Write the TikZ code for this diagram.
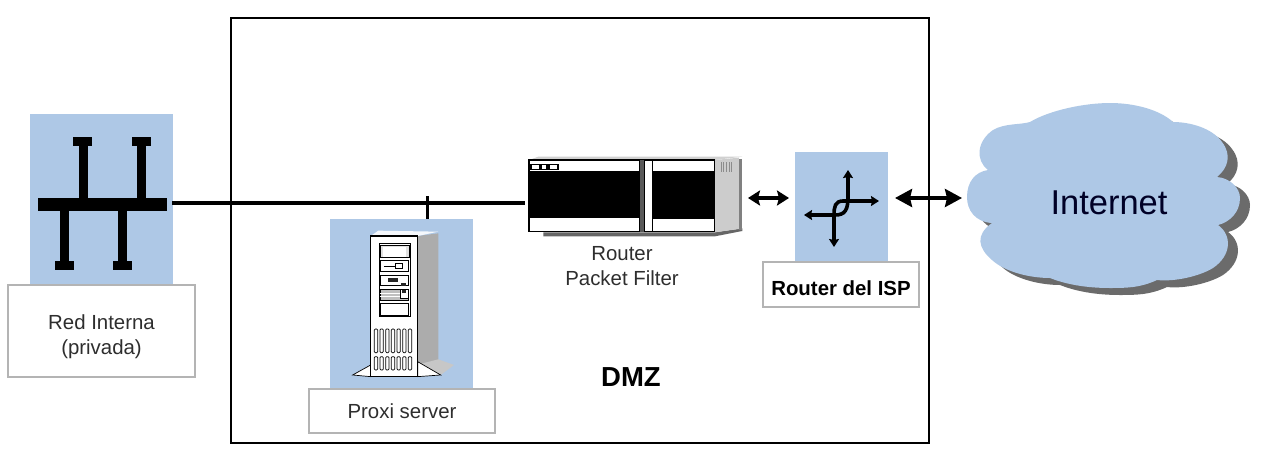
\documentclass[tikz,border=0pt]{standalone}
\usepackage{fontspec}
\setmainfont{Liberation Sans}
\usetikzlibrary{arrows.meta}
\definecolor{netblue}{HTML}{AEC8E6}
\definecolor{lblgray}{HTML}{B4B4B4}
\definecolor{txt}{HTML}{2E2E2E}
\tikzset{
  panel/.style={fill=netblue,draw=none,inner sep=0pt,outer sep=0pt},
  lbl/.style={fill=white,draw=lblgray,inner sep=0pt,outer sep=0pt,align=center,text=txt,font=\fontsize{20.4}{25}\selectfont},
  solid bar/.style={fill=black,draw=none,inner sep=0pt,outer sep=0pt},
  twohead/.style={line width=3.4pt,{Stealth[length=12pt,width=15pt,inset=2pt]}-{Stealth[length=12pt,width=15pt,inset=2pt]}},
  bighead/.style={line width=3.4pt,{Stealth[length=17pt,width=18pt,inset=2pt]}-{Stealth[length=17pt,width=18pt,inset=2pt]}},
  smallhead/.style={line width=3.6pt,{Stealth[length=8pt,width=10pt,inset=1pt]}-{Stealth[length=8pt,width=10pt,inset=1pt]}},
}
\def\cloudpath{(988,170) .. controls (975,160) and (977,141) .. (993,130)
 .. controls (1005,123) and (1020,125) .. (1030,122)
 .. controls (1050,110) and (1085,103) .. (1110,103)
 .. controls (1135,103) and (1160,110) .. (1173,122)
 .. controls (1190,122) and (1212,128) .. (1222,142)
 .. controls (1232,155) and (1228,168) .. (1217,177)
 .. controls (1230,178) and (1240,188) .. (1240,198)
 .. controls (1240,212) and (1230,222) .. (1218,225)
 .. controls (1232,235) and (1232,255) .. (1213,268)
 .. controls (1200,276) and (1175,282) .. (1157,280)
 .. controls (1140,288) and (1125,288) .. (1110,288)
 .. controls (1085,288) and (1065,284) .. (1050,278)
 .. controls (1030,278) and (1005,272) .. (992,260)
 .. controls (978,248) and (975,235) .. (992,223)
 .. controls (975,222) and (967,210) .. (967,197)
 .. controls (967,182) and (975,172) .. (988,170) -- cycle}
\begin{document}
\begin{tikzpicture}[x=1pt,y=-1pt]
\useasboundingbox[fill=white] (0,0) rectangle (1263,464);
% DMZ frame
\node[draw=black,line width=2.5pt,minimum width=698pt,minimum height=425pt,inner sep=0pt] (dmz) at (580,230.5) {};
\node[font=\bfseries\fontsize{27.5}{32}\selectfont,text=black] (dmzt) at (631,377) {DMZ};

% Internal network
\node[panel,minimum width=143pt,minimum height=171pt] (netp) at (101.5,199.5) {};
\node[lbl,line width=2.6pt,minimum width=187pt,minimum height=92pt] (netl) at (101.5,331) {\rule{0pt}{26pt}Red Interna\\(privada)};
\node[solid bar,minimum width=129pt,minimum height=13pt] (bus) at (102.5,204.5) {};
\foreach \n/\xx/\yy/\h in {a/83/170/56,b/141/170/56,c/64/238/54,d/122/238/54}{
  \node[solid bar,minimum width=9pt,minimum height=\h pt] (stem\n) at (\xx,\yy) {};
}
\foreach \n/\xx/\yy in {a/82.5/141.5,b/141.5/141.5,c/64.5/265.5,d/122.5/265.5}{
  \node[solid bar,minimum width=19pt,minimum height=9pt] (cap\n) at (\xx,\yy) {};
}

% Proxy server
\node[panel,minimum width=143pt,minimum height=171pt] (prxp) at (401.5,304.5) {};
\node[lbl,line width=1.2pt,minimum width=186pt,minimum height=44pt] (prxl) at (402,411) {Proxi server};
\begin{scope}[shift={(320,190)},x=0.3333pt,y=-0.3333pt]
  \fill[gray!65] (293,138) -- (355,130) -- (355,510) -- (293,535) -- cycle;
  \fill[white!88!netblue] (152,138) -- (175,122) -- (355,125) -- (293,138) -- cycle;
  \fill[black!22] (300,522) -- (355,508) -- (402,525) -- (362,555) -- cycle;
  \draw[black,line width=.7pt,fill=white] (152,525) -- (98,555) -- (152,560) -- cycle;
  \draw[black,line width=.7pt,fill=white] (293,515) -- (362,555) -- (293,560) -- cycle;
  \draw[black,line width=1.3pt,fill=white] (152,138) rectangle (293,560);
  \draw[black,line width=.8pt,fill=white] (177,160) rectangle (270,380);
  \draw[black,line width=.7pt,fill=black!12] (180,165) rectangle (268,202);
  \fill[white] (188,172) rectangle (258,200);
  \draw[black,line width=.7pt] (180,212) rectangle (265,245);
  \draw[black,line width=.7pt] (192,229) -- (225,229);
  \draw[black,line width=.7pt,fill=white] (225,220) rectangle (248,235);
  \draw[black,line width=.7pt] (180,255) rectangle (265,287);
  \fill[black!85] (205,265) rectangle (235,275);
  \fill[black!85] (243,278) rectangle (258,287);
  \draw[black,line width=.7pt,fill=black!25] (180,297) rectangle (265,332);
  \draw[white,line width=.7pt] (180,310) -- (240,310) (180,320) -- (240,320);
  \draw[black,line width=.7pt,fill=white] (240,297) rectangle (265,325);
  \fill[black!85] (246,300) rectangle (258,310);
  \draw[black,line width=.7pt] (180,340) rectangle (265,375);
  \foreach \cx in {168,185,202,219,236,253,270}{
    \draw[black,line width=.7pt,rounded corners=1pt] (\cx-5,417) rectangle (\cx+5,488);
    \draw[black,line width=.7pt,rounded corners=1pt] (\cx-5,500) rectangle (\cx+5,540);
  }
\end{scope}

% Packet filter router
\node[inner sep=0pt,outer sep=0pt,minimum width=185pt,minimum height=72pt] (rtr) at (621.5,196) {};
\begin{scope}[shift={(515,145)},x=0.3333pt,y=-0.3333pt]
  \fill[black!60] (85,262) -- (600,262) -- (682,250) -- (682,258) -- (600,274) -- (85,274) -- cycle;
  \fill[black!18] (42,45) -- (70,35) -- (682,35) -- (598,45) -- cycle;
  \fill[black!20] (598,45) -- (672,38) -- (672,252) -- (598,262) -- cycle;
  \fill[black!50] (672,42) rectangle (682,254);
  \foreach \vx in {618,626,634,642,650}{ \draw[black!45,line width=.8pt] (\vx,52) -- (\vx,82); }
  \draw[black,line width=1.6pt,fill=white] (42,45) rectangle (598,260);
  \fill[black] (44,78) rectangle (372,220);
  \fill[black] (414,78) rectangle (596,222);
  \fill[black] (372,45) rectangle (376,260);
  \fill[black!65] (376,45) rectangle (388,260);
  \fill[black] (388,45) rectangle (391,260);
  \fill[black] (410,45) rectangle (415,260);
  \fill[black] (44,56) rectangle (132,74);
  \fill[white] (50,60) rectangle (72,71);
  \fill[white] (82,60) rectangle (94,71);
  \fill[white] (106,60) rectangle (127,71);
\end{scope}
\node[text=txt,align=center,font=\fontsize{20.4}{25}\selectfont,inner sep=0pt] (rtrt) at (622,266) {Router\\Packet Filter};

% ISP router
\node[panel,minimum width=93pt,minimum height=110pt] (ispp) at (841.5,207) {};
\node[lbl,line width=1.3pt,minimum width=156pt,minimum height=45pt,font=\bfseries\fontsize{20.4}{25}\selectfont,text=black] (ispl) at (841,284.5) {\rule{0pt}{22pt}Router del ISP};
\coordinate (su) at (848,170);
\coordinate (sl) at (804,215);
\coordinate (sr) at (879,201);
\coordinate (sd) at (834,247);
\draw[smallhead] (su) -- (848,197) .. controls (848,210) and (845,215) .. (835,215) -- (sl);
\draw[smallhead] (sr) -- (843,201) .. controls (835,201) and (834,207) .. (834,215) -- (sd);

% Cloud
\path[fill=black!58,shift={(10,7)}] \cloudpath;
\path[fill=netblue] \cloudpath;
\node[text=black!85!blue,font=\fontsize{34.5}{40}\selectfont,inner sep=0pt] (inet) at (1109,203) {Internet};
\coordinate (cloudw) at (962,198);

% Connectors
\coordinate (linestart) at (172,203);
\coordinate (lineend) at (525,203);
\coordinate (tickt) at (427.5,196);
\draw[line width=3.6pt] (linestart) -- (lineend);
\draw[line width=3.6pt] (tickt) -- (tickt |- prxp.north);
\coordinate (a1) at (748,198);
\coordinate (a2) at (789,198);
\coordinate (a3) at (895,198);
\draw[twohead] (a1) -- (a2);
\draw[bighead] (a3) -- (cloudw);
\end{tikzpicture}
\end{document}
